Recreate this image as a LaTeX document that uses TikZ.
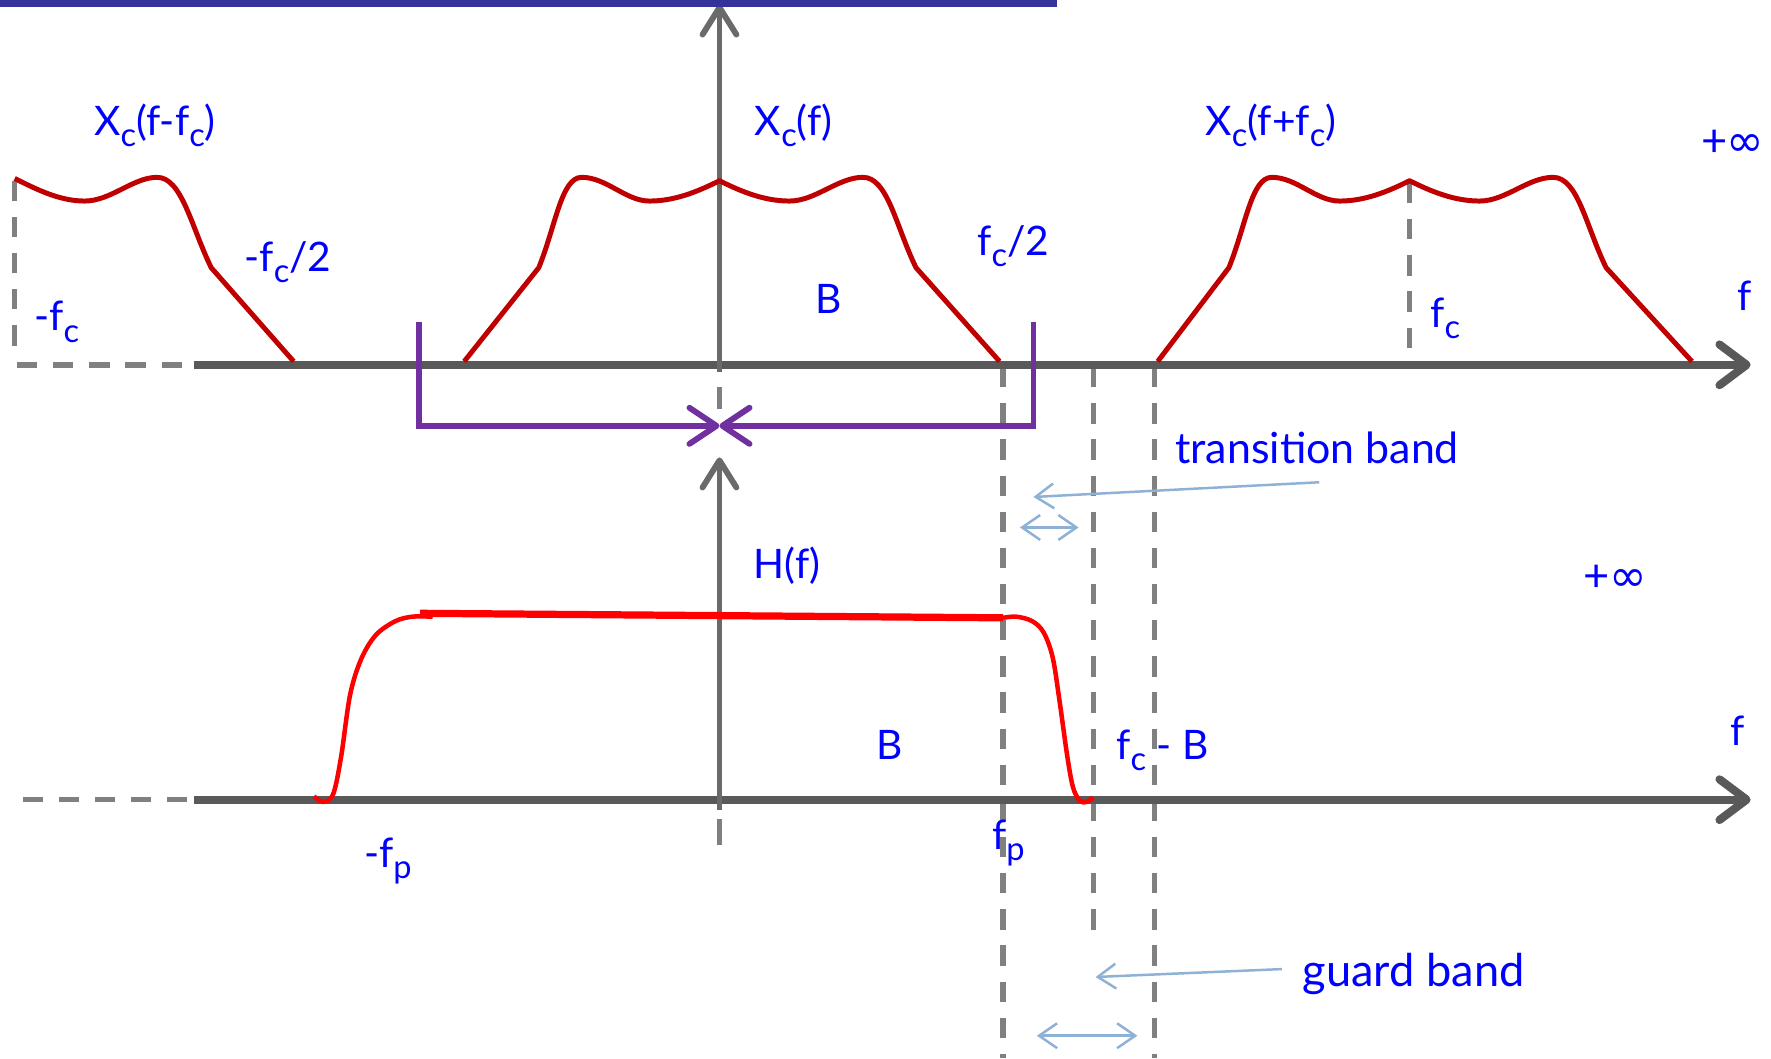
\documentclass[tikz,border=0pt]{standalone}
\usepackage{fontspec}
\setmainfont{Lato}
\newfontfamily\symfont{DejaVu Sans}
\usepackage{graphicx}
\usetikzlibrary{arrows.meta}
\definecolor{axgray}{HTML}{595959}
\definecolor{vgray}{HTML}{6A6A6A}
\definecolor{dgray}{HTML}{808080}
\definecolor{dred}{HTML}{C00000}
\definecolor{pred}{HTML}{FF0000}
\definecolor{purp}{HTML}{7030A0}
\definecolor{lblue}{HTML}{8EB1D6}
\definecolor{tblue}{HTML}{0000FF}
\definecolor{barblue}{HTML}{333399}
\newcommand\lo[1]{\raisebox{-0.55ex}{\scalebox{0.8}{#1}}}
\newcommand\pinf{{\fontsize{20}{22}\selectfont +\kern-0.5pt{\symfont\fontsize{20}{22}\selectfont ∞}}}
\begin{document}
\begin{tikzpicture}[x=0.5pt,y=-0.5pt,
 axisline/.style={draw=axgray,line width=3.6pt,-{Straight Barb[length=12pt,width=18pt,round]}},
 vaxis/.style={draw=vgray,line width=2.6pt,-{Straight Barb[length=12pt,width=15pt,round]}},
 guide/.style={draw=dgray,line width=2.4pt,dash pattern=on 9pt off 7pt},
 tick/.style={draw=dgray,line width=2.4pt},
 spec/.style={draw=dred,line width=2.2pt,line join=round},
 filt/.style={draw=pred,line width=2pt},
 flat/.style={draw=pred,line width=3.2pt},
 purpline/.style={draw=purp,line width=2.6pt},
 purparrow/.style={purpline,-{Straight Barb[length=12pt,width=16pt,round]}},
 lead/.style={draw=lblue,line width=1.1pt},
 leadtip/.style={lead,-{Straight Barb[length=8pt,width=11pt]}},
 leadboth/.style={lead,{Straight Barb[length=8pt,width=11pt]}-{Straight Barb[length=8pt,width=11pt]}},
 lbl/.style={text=tblue,inner sep=0pt,anchor=base west,font=\fontsize{18}{20}\selectfont},
 biglbl/.style={lbl,font=\fontsize{19}{21}\selectfont},
 guardlbl/.style={lbl,font=\fontsize{20}{22}\selectfont},
]
\useasboundingbox (0,0) rectangle (1568,937);

% ---- guide (dashed) lines
\coordinate (ulx0) at (15,323);   \coordinate (ulx1) at (172,323);
\coordinate (llx0) at (20,708);   \coordinate (llx1) at (172,708);
\coordinate (mfcT) at (13,160);   \coordinate (mfcB) at (13,318);
\coordinate (fcT) at (1248,162);  \coordinate (fcB) at (1248,310);
\coordinate (g1T) at (888,325);   \coordinate (g1B) at (888,937);
\coordinate (g2T) at (968,325);   \coordinate (g2B) at (968,825);
\coordinate (g3T) at (1022,325);  \coordinate (g3B) at (1022,937);
\draw[guide] (ulx0) -- (ulx1);
\draw[guide] (llx0) -- (llx1);
\draw[guide] (mfcT) -- (mfcB);
\draw[guide] (fcT) -- (fcB);
\draw[guide] (g1T) -- (g1B);
\draw[guide] (g2T) -- (g2B);
\draw[guide] (g3T) -- (g3B);
\coordinate (t1a) at (637,343); \coordinate (t1b) at (637,362);
\coordinate (t2a) at (637,725); \coordinate (t2b) at (637,748);
\draw[tick] (t1a) -- (t1b);
\draw[tick] (t2a) -- (t2b);

% ---- axes
\coordinate (ua0) at (172,323); \coordinate (ua1) at (1550,323);
\coordinate (la0) at (172,708); \coordinate (la1) at (1550,708);
\coordinate (uv0) at (637,329); \coordinate (uv1) at (637,4);
\coordinate (lv0) at (637,717); \coordinate (lv1) at (637,405);
\draw[axisline] (ua0) -- (ua1);
\draw[axisline] (la0) -- (la1);
\draw[vaxis] (uv0) -- (uv1);
\draw[vaxis] (lv0) -- (lv1);

% ---- spectra X_c
\begin{scope}[shift={(13,0)}]
\draw[spec] (0,158) .. controls (20,168) and (40,178) .. (62,178) .. controls (85,178) and (105,157) .. (126,157) .. controls (148,157) and (156,200) .. (174,237) -- (247,320);
\end{scope}
\begin{scope}[shift={(637,0)}]
\draw[spec] (-226,320) -- (-160,237) .. controls (-145,200) and (-140,157) .. (-122,157) .. controls (-100,157) and (-83,178) .. (-62,178) .. controls (-40,178) and (-20,170) .. (0,160)
 .. controls (20,170) and (40,178) .. (62,178) .. controls (85,178) and (105,157) .. (127,157) .. controls (149,157) and (156,200) .. (174,237) -- (248,320);
\end{scope}
\begin{scope}[shift={(1248,0)}]
\draw[spec] (-223,320) -- (-160,237) .. controls (-145,200) and (-140,157) .. (-122,157) .. controls (-100,157) and (-83,178) .. (-62,178) .. controls (-40,178) and (-20,170) .. (0,160)
 .. controls (20,170) and (40,178) .. (62,178) .. controls (85,178) and (105,157) .. (127,157) .. controls (149,157) and (156,200) .. (174,237) -- (250,320);
\end{scope}

% ---- filter H(f)
\draw[filt] plot[smooth,tension=0.55] coordinates {(278,705) (286,710) (295,703) (302,670) (310,615) (320,583) (333,562) (350,550) (365,546) (383,546)};
\coordinate (hl) at (372,543); \coordinate (hr) at (888,547);
\draw[flat] (hl) -- (hr);
\draw[filt] plot[smooth,tension=0.55] coordinates {(888,547) (900,546) (914,550) (924,560) (932,582) (938,620) (945,670) (950,697) (956,709) (962,710) (968,706)};

% ---- purple bracket
\coordinate (pl0) at (371,285); \coordinate (pl1) at (371,377);
\coordinate (pr0) at (915,285); \coordinate (pr1) at (915,377);
\coordinate (pm) at (637,377);
\draw[purparrow] (pl0) -- (pl1) -- (pm);
\draw[purparrow] (pr0) -- (pr1) -- (pm);

% ---- labels
\node[lbl] (xl) at (83,120) {X\lo{c}(f-f\lo{c})};
\node[lbl] (xm) at (668,120) {X\lo{c}(f)};
\node[lbl] (xr) at (1067,120) {X\lo{c}(f+f\lo{c})};
\node[lbl] (inf1) at (1506,139) {\pinf};
\node[lbl] (mfc2) at (216,240) {-f\lo{c}/2};
\node[lbl] (fc2) at (865,226) {f\lo{c}/2};
\node[lbl] (b1) at (722,278) {B};
\node[lbl] (mfc) at (30,293) {-f\lo{c}};
\node[lbl] (fc) at (1266,290) {f\lo{c}};
\node[lbl] (f1) at (1538,275) {f};
\node[biglbl] (tb) at (1040,410) {transition band};
\node[lbl] (hf) at (667,512) {H(f)};
\node[lbl] (inf2) at (1402,524) {\pinf};
\node[lbl] (b2) at (776,672) {B};
\node[lbl] (f2) at (1532,660) {f};
\node[lbl] (fcb) at (988,672) {f\lo{c} - B};
\node[lbl] (mfp) at (322,768) {-f\lo{p}};
\node[lbl] (fp) at (878,752) {f\lo{p}};
\node[guardlbl] (gb) at (1153,873) {guard band};

% ---- leaders
\coordinate (tbs) at (1168,427); \coordinate (tbe) at (915,440);
\coordinate (tw0) at (903,467);  \coordinate (tw1) at (955,467);
\coordinate (gbs) at (1135,858); \coordinate (gbe) at (970,865);
\coordinate (gw0) at (918,917);  \coordinate (gw1) at (1007,917);
\draw[leadtip] (tbs) -- (tbe);
\draw[leadboth] (tw0) -- (tw1);
\draw[leadtip] (gbs) -- (gbe);
\draw[leadboth] (gw0) -- (gw1);

% ---- top bar
\coordinate (bar0) at (0,0); \coordinate (bar1) at (936,6);
\fill[barblue] (bar0) rectangle (bar1);
\end{tikzpicture}
\end{document}
